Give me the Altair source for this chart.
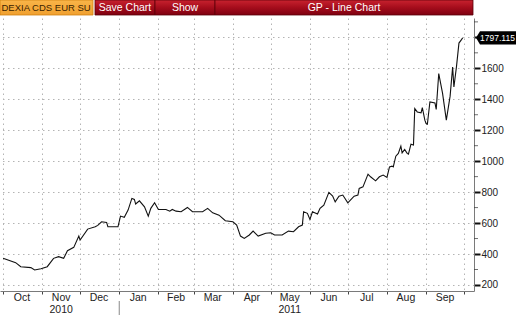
import altair as alt
import pandas as pd

# ---- data ----
dates = ["2010-10-01","2010-10-11","2010-10-15","2010-10-23","2010-10-26","2010-10-31",
         "2010-11-05","2010-11-10","2010-11-14","2010-11-18","2010-11-21","2010-11-26",
         "2010-11-30","2010-12-01","2010-12-07","2010-12-13","2010-12-15","2010-12-18",
         "2010-12-22","2010-12-23","2010-12-31","2011-01-02","2011-01-05","2011-01-08",
         "2011-01-11","2011-01-13","2011-01-14","2011-01-17","2011-01-21","2011-01-24",
         "2011-01-26","2011-01-29","2011-02-01","2011-02-07","2011-02-10","2011-02-12",
         "2011-02-15","2011-02-19","2011-02-24","2011-02-28","2011-03-08","2011-03-12",
         "2011-03-16","2011-03-21","2011-03-26","2011-04-01","2011-04-04","2011-04-07",
         "2011-04-10","2011-04-14","2011-04-17","2011-04-21","2011-04-27","2011-05-01",
         "2011-05-04","2011-05-10","2011-05-15","2011-05-19","2011-05-23","2011-05-26",
         "2011-05-27","2011-05-30","2011-06-01","2011-06-03","2011-06-07","2011-06-09",
         "2011-06-12","2011-06-16","2011-06-19","2011-06-21","2011-06-24","2011-06-27",
         "2011-07-01","2011-07-06","2011-07-09","2011-07-10","2011-07-13","2011-07-17",
         "2011-07-19","2011-07-23","2011-07-26","2011-07-29","2011-08-01","2011-08-03",
         "2011-08-05","2011-08-06","2011-08-08","2011-08-10","2011-08-12","2011-08-13",
         "2011-08-15","2011-08-17","2011-08-18","2011-08-20","2011-08-22","2011-08-23",
         "2011-08-25","2011-08-28","2011-08-29","2011-08-31","2011-09-01","2011-09-02",
         "2011-09-04","2011-09-08","2011-09-09","2011-09-11","2011-09-14","2011-09-17",
         "2011-09-20","2011-09-22","2011-09-23","2011-09-25","2011-09-27","2011-09-29",
         "2011-09-30"]
values = [372, 344, 318, 312, 297, 305,
          318, 372, 383, 372, 421, 443,
          516, 490, 561, 576, 585, 608,
          604, 576, 576, 645, 637, 684,
          759, 753, 723, 744, 705, 645,
          695, 731, 688, 688, 677, 688,
          677, 673, 701, 673, 673, 695,
          666, 651, 615, 608, 587, 516,
          501, 523, 548, 516, 534, 537,
          523, 523, 548, 544, 576, 587,
          673, 663, 624, 673, 658, 695,
          716, 798, 774, 737, 774, 781,
          731, 774, 781, 824, 834, 916,
          899, 873, 899, 910, 895, 963,
          968, 963, 1032, 1050, 1097, 1054,
          1076, 1050, 1045, 1110, 1105, 1340,
          1318, 1312, 1346, 1265, 1243, 1239,
          1383, 1376, 1334, 1566, 1440, 1265,
          1420, 1608, 1479, 1608, 1763, 1785,
          1797.115]

last_value = 1797.115
last_label = "1797.115"

month_labels = ["Oct", "Nov", "Dec", "Jan", "Feb", "Mar", "Apr", "May", "Jun", "Jul", "Aug", "Sep"]
month_mid = ["2010-10-16", "2010-11-16", "2010-12-16", "2011-01-16", "2011-02-15", "2011-03-16",
             "2011-04-16", "2011-05-16", "2011-06-16", "2011-07-16", "2011-08-16", "2011-09-16"]
year_labels = ["2010", "2011"]
year_pos = ["2010-11-16", "2011-05-16"]
year_break = ["2011-01-01"]
y_ticks = [200, 400, 600, 800, 1000, 1200, 1400, 1600, 1800]
y_minor = [300, 500, 700, 900, 1100, 1300, 1500, 1700, 1900]
header_labels = ["DEXIA CDS EUR SU", "Save Chart", "Show", "GP - Line Chart"]

FONT = "Liberation Sans, Arial, sans-serif"

df = pd.DataFrame({"date": dates, "value": values})
months_df = pd.DataFrame({"date": month_mid, "label": month_labels})
years_df = pd.DataFrame({"date": year_pos, "label": year_labels})
break_df = pd.DataFrame({"date": year_break})
minor_df = pd.DataFrame({"value": y_minor})
last_df = pd.DataFrame({"date": [dates[-1]], "value": [last_value], "label": [last_label]})

month_starts = [alt.DateTime(year=2010 + (9 + i) // 12, month=(9 + i) % 12 + 1, date=1, utc=True)
                for i in range(13)]

x_scale = alt.Scale(type="utc",
                    domain=[alt.DateTime(year=2010, month=9, date=28, hours=14, utc=True),
                            alt.DateTime(year=2011, month=10, date=8, hours=22, utc=True)])
y_scale = alt.Scale(domain=[161, 1925], nice=False, zero=False)

x_axis = alt.Axis(values=month_starts, labels=False, title=None,
                  grid=True, gridColor="#b4b4b4", gridDash=[1.5, 3.5],
                  tickSize=3, tickColor="#444444", domainColor="#7a7a7a")
y_axis = alt.Axis(orient="right", values=y_ticks, title=None, format="d",
                  labelExpr="datum.value == 1800 ? '' : datum.label",
                  labelOverlap=False,
                  grid=True, gridColor="#b4b4b4", gridDash=[1.5, 3.5],
                  tickSize=6, tickWidth=2, tickColor="#111111",
                  domainColor="#7a7a7a", labelFont=FONT, labelFontSize=10,
                  labelColor="#222222", labelPadding=1)


def xs():
    return alt.X("date:T", scale=x_scale, axis=x_axis)


def ys():
    return alt.Y("value:Q", scale=y_scale, axis=y_axis)


line = alt.Chart(df).mark_line(color="#111111", strokeWidth=1.1).encode(x=xs(), y=ys())

minor = alt.Chart(minor_df).mark_tick(color="#333333", size=4, thickness=1).encode(
    y=ys(), x=alt.value(476))

months = alt.Chart(months_df).mark_text(font=FONT, fontSize=10.5, color="#222222",
                                        baseline="middle").encode(
    x=xs(), y=alt.value(280), text="label:N")

years = alt.Chart(years_df).mark_text(font=FONT, fontSize=10.5, color="#222222",
                                      baseline="middle").encode(
    x=xs(), y=alt.value(292), text="label:N")

ybreak = alt.Chart(break_df).mark_rule(color="#888888", strokeWidth=1).encode(
    x=xs(), y=alt.value(283), y2=alt.value(297))

badge_shape = "M -1 0 L -0.8 -0.33 L 1 -0.33 L 1 0.33 L -0.8 0.33 Z"
badge = alt.Chart(last_df).mark_point(shape=badge_shape, filled=True, color="#000000",
                                      opacity=1, size=1600, strokeWidth=0).encode(
    x=alt.value(496), y=ys())
badge_text = alt.Chart(last_df).mark_text(font=FONT, fontSize=8.5, color="#ffffff",
                                          baseline="middle", align="center").encode(
    x=alt.value(497.5), y=ys(), text="label:N")

red_grad = alt.LinearGradient(gradient="linear",
                              stops=[alt.GradientStop(color="#c8222f", offset=0),
                                     alt.GradientStop(color="#a50d1c", offset=0.5),
                                     alt.GradientStop(color="#7e0010", offset=1)],
                              x1=0, y1=0, x2=0, y2=1)
orange_grad = alt.LinearGradient(gradient="linear",
                                 stops=[alt.GradientStop(color="#f9b548", offset=0),
                                        alt.GradientStop(color="#f0a030", offset=1)],
                                 x1=0, y1=0, x2=0, y2=1)

header_boxes = [(0, 93, orange_grad, "#d08010"), (95, 155, red_grad, "#5a0008"),
                (155, 215, red_grad, "#5a0008"), (215, 473, red_grad, "#5a0008")]
header_text = [(1.5, "left", "#3a2200"), (125, "center", "#ffffff"),
               (185, "center", "#ffffff"), (344, "center", "#ffffff")]

header_layers = []
for lab, (x0, x1, fill, edge), (tx, al, tc) in zip(header_labels, header_boxes, header_text):
    hdf = pd.DataFrame({"label": [lab]})
    header_layers.append(
        alt.Chart(hdf).mark_rect(color=fill, stroke=edge, strokeWidth=0.8).encode(
            x=alt.value(x0), x2=alt.value(x1), y=alt.value(-18), y2=alt.value(-3)))
    header_layers.append(
        alt.Chart(hdf).mark_text(font=FONT, fontSize=9.5 if lab == header_labels[0] else 10.5,
                                 color=tc, align=al, baseline="middle").encode(
            x=alt.value(tx), y=alt.value(-10.5), text="label:N"))

chart = alt.layer(line, minor, months, years, ybreak, badge, badge_text, *header_layers).properties(
    width=474, height=273,
    autosize=alt.AutoSizeParams(type="none"),
    padding={"left": 0, "top": 18, "right": 42, "bottom": 25},
    background="white",
).configure_view(stroke=None)

chart.save("out.html", embed_options={"renderer": "svg", "actions": False})
